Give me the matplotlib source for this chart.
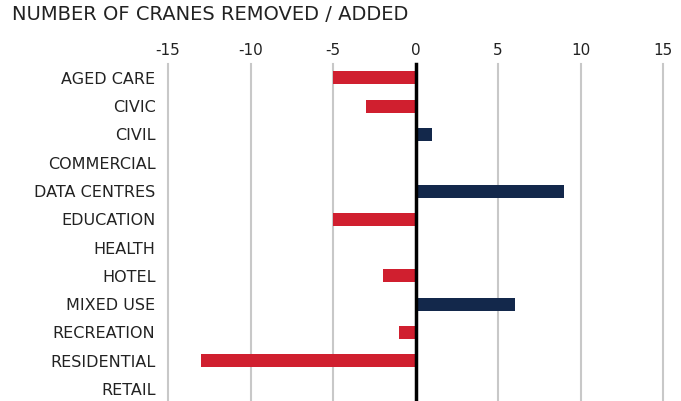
import matplotlib.pyplot as plt

# Crane changes by sector
sectors = ['AGED CARE', 'CIVIC', 'CIVIL', 'COMMERCIAL', 'DATA CENTRES', 'EDUCATION',
           'HEALTH', 'HOTEL', 'MIXED USE', 'RECREATION', 'RESIDENTIAL', 'RETAIL']
changes = [-5, -3, 1, 0, 9, -5, 0, -2, 6, -1, -13, 0]
ticks = [-15, -10, -5, 0, 5, 10, 15]

plt.rcParams['font.family'] = ['DejaVu Sans']

fig = plt.figure(figsize=(6.81, 4.01), dpi=100)
ax = fig.add_axes([168 / 681, -0.005, (663 - 168) / 681, 0.8458])

colors = ['#d01f2f' if v < 0 else '#13284b' for v in changes]
ax.barh(range(len(sectors)), changes, height=0.46, color=colors, zorder=3)

ax.set_xlim(-15, 15)
ax.set_ylim(len(sectors) - 0.5, -0.5)
ax.set_xticks(ticks)
ax.set_xticklabels([str(t) for t in ticks], fontsize=11, color='#222222')
ax.xaxis.tick_top()
ax.tick_params(axis='x', length=0, pad=4)
ax.set_yticks(range(len(sectors)))
ax.set_yticklabels(sectors, fontsize=11.5, color='#222222')
ax.tick_params(axis='y', length=0, pad=9)

for t in ticks:
    if t == 0:
        ax.axvline(0, color='black', lw=2.5, zorder=4, clip_on=False)
    else:
        ax.axvline(t, color='#c8c8c8', lw=1.5, zorder=1, clip_on=False)

for s in ax.spines.values():
    s.set_visible(False)

fig.text(12 / 681, 1 - 15 / 401, 'NUMBER OF CRANES REMOVED / ADDED', fontsize=14,
         color='#222222', va='center', ha='left')

fig.savefig('out.png', dpi=100)
